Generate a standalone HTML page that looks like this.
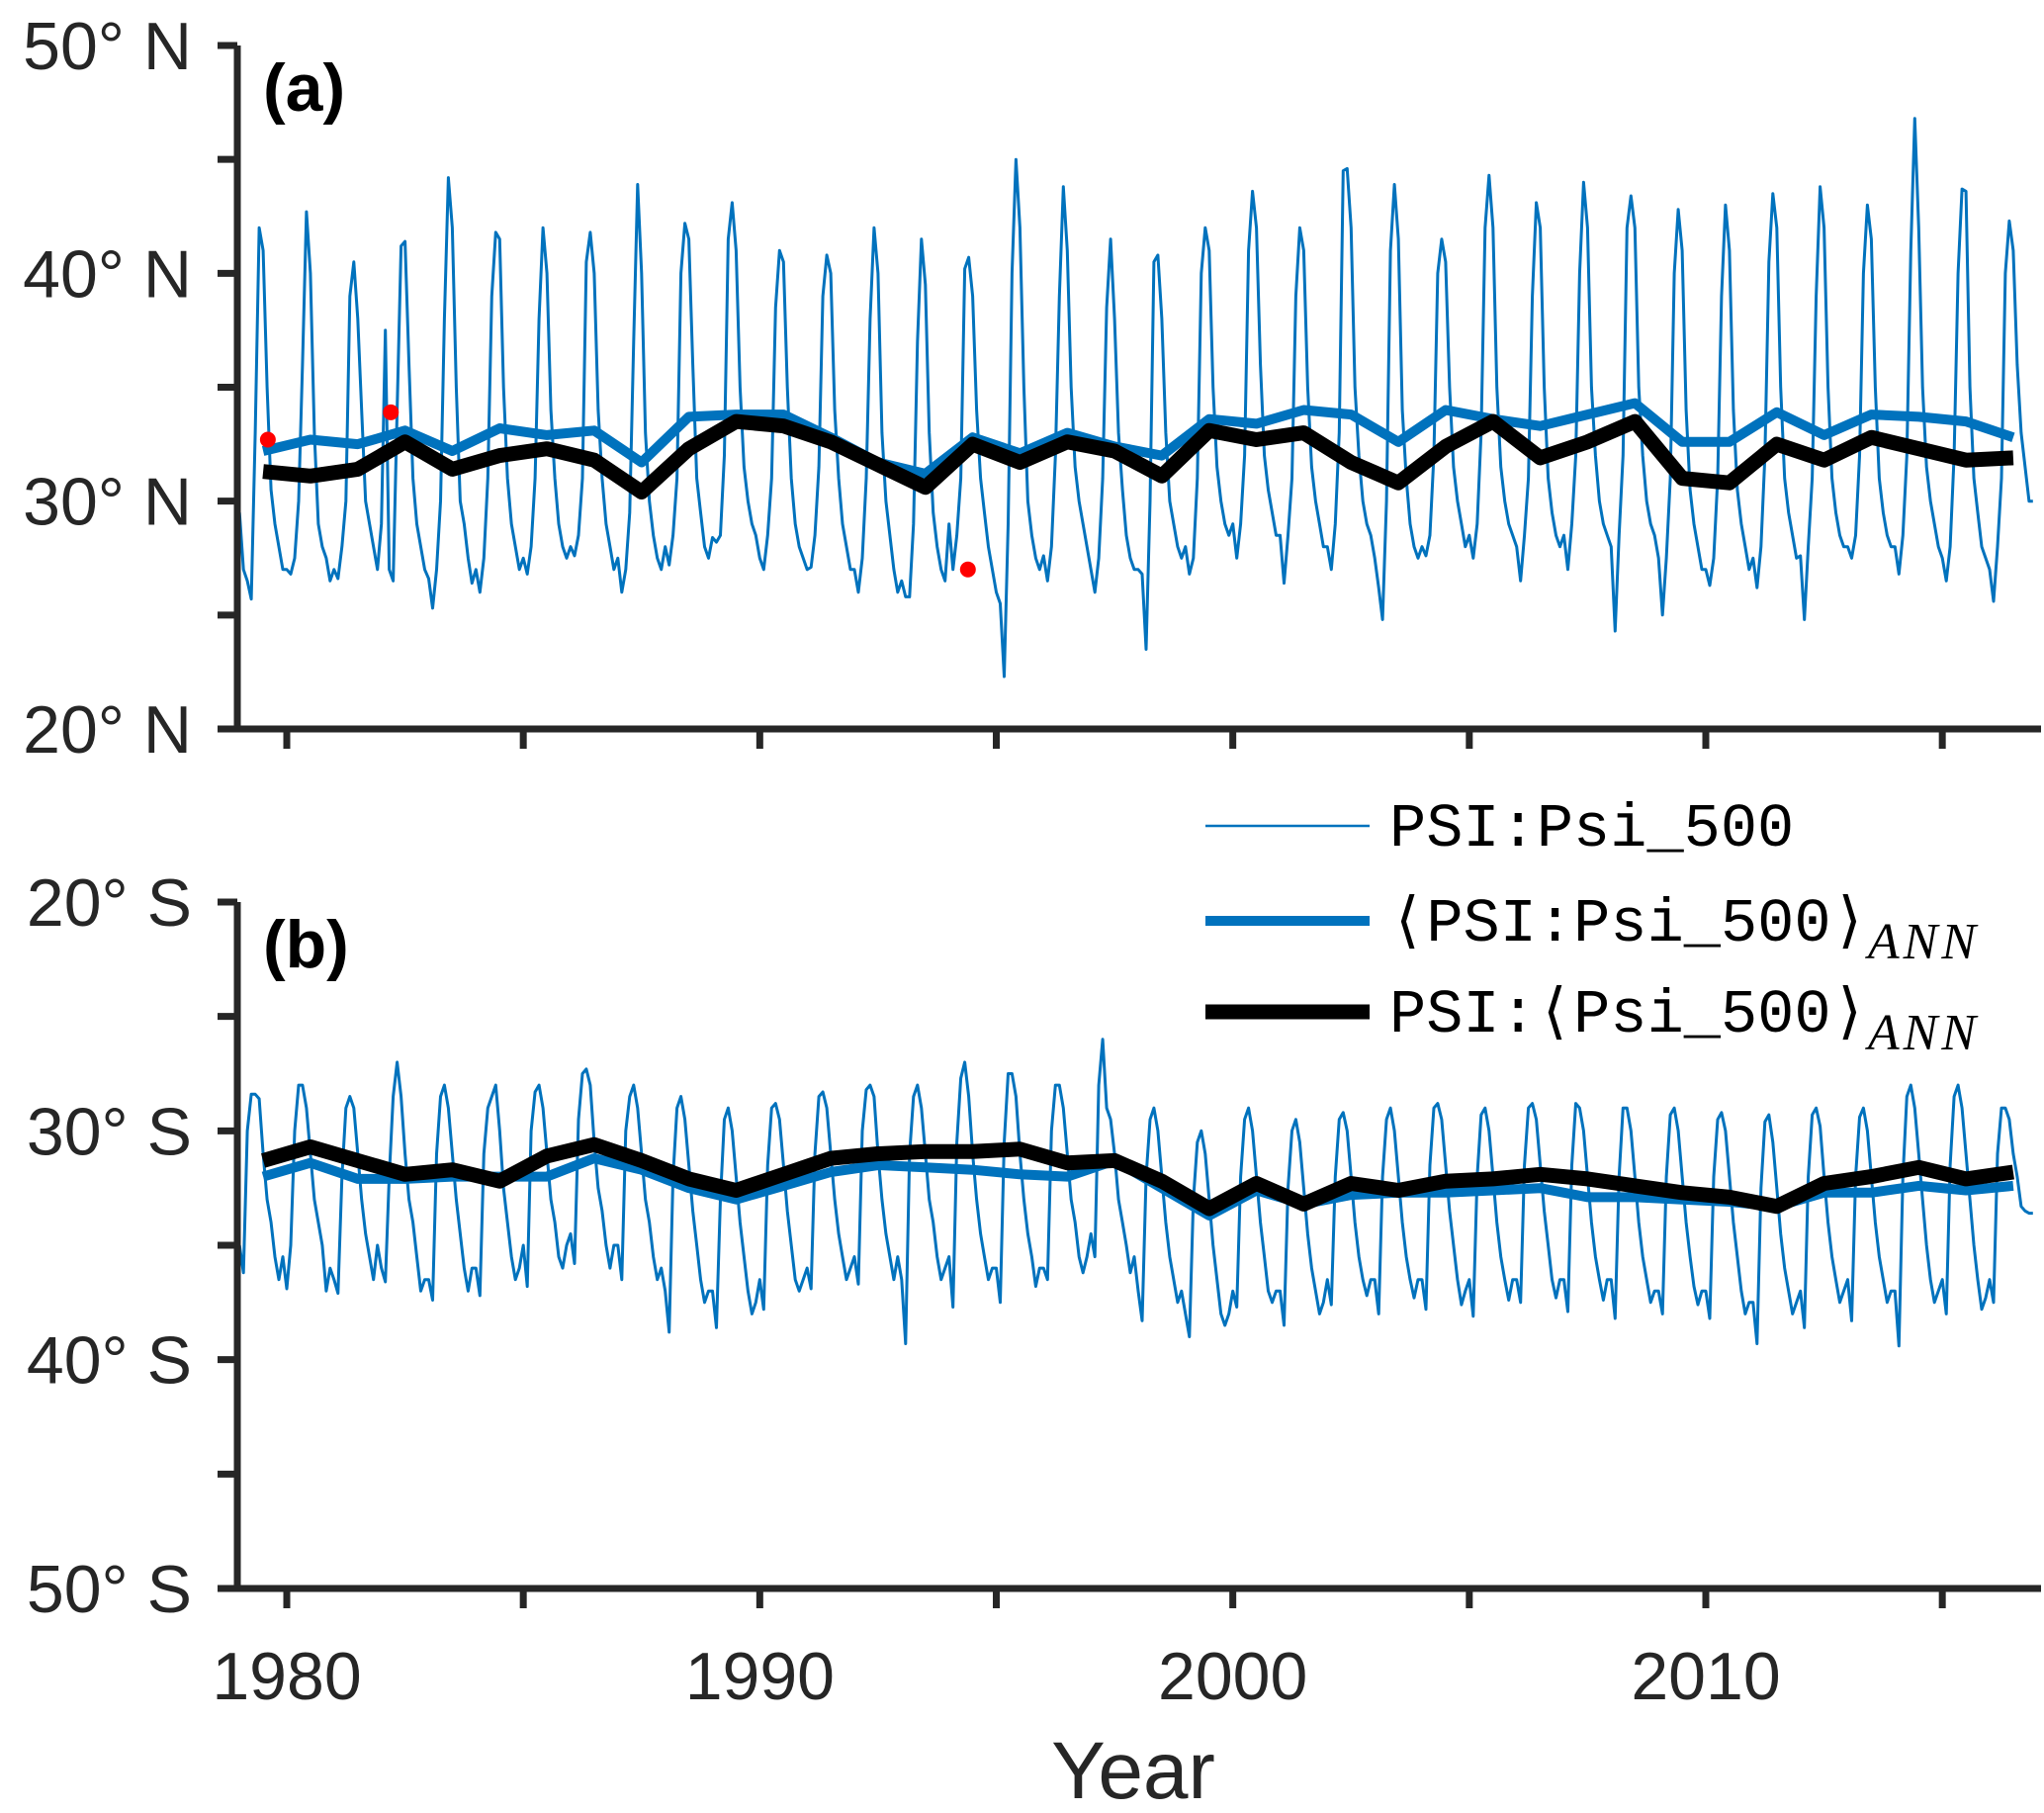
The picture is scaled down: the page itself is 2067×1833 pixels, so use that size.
<!DOCTYPE html>
<html><head><meta charset="utf-8">
<style>
body{margin:0;background:#fff;}
svg{display:block;}
.tk{font-family:"Liberation Sans",sans-serif;font-size:68px;fill:#262626;}
.lg{font-family:"Liberation Mono",monospace;font-size:62px;fill:#000;}
.sub{font-family:"Liberation Serif",serif;font-style:italic;font-size:52px;letter-spacing:4px;}
</style></head>
<body>
<svg id="chart" width="2067" height="1833" viewBox="0 0 2067 1833"></svg>
<script>
// Panel a monthly (deg N), 1979-2016, 12 per year
const monthlyA = [
29.5,27,26.5,25.7,33,42,41,35,30.5,29,28,27,
27,26.8,27.5,30,36,42.7,40,33,29,28,27.5,26.5,
27,26.6,28,30,39,40.5,38,34,30,29,28,27,
29,37.5,27,26.5,34,41.2,41.4,36,31,29,28,27,
26.6,25.3,27,30,38,44.2,42,35,30,29,27.5,26.4,
27,26,27.5,31,39,41.8,41.5,35,31,29,28,27,
27.5,26.8,28,31,38,42,40,34,31,29,28,27.5,
28,27.6,28.5,31,40.5,41.8,40,34,31,29,28,27,
27.5,26,27,29.5,37,43.9,40,33,30,28.5,27.5,27,
28,27.2,28.5,31,40,42.2,41.5,36,31,29.5,28,27.5,
28.4,28.2,28.5,32,41.5,43.1,41,35,31.5,30,29,28.5,
27.5,27,28.5,31,38.5,41,40.5,35,31,29,28,27.5,
27,27.1,28.5,31.5,39,40.8,40,34,31,29,28,27,
27,26,27.5,31,38,42,40,33,30,28.5,27,26,
26.5,25.8,25.8,29,37,41.5,39.5,33,29.5,28,27,26.5,
29,27,28.5,31,40.2,40.7,39,34,31,29.5,28,27,
26,25.5,22.3,29,40,45,42,35,30,28.5,27.5,27,
27.6,26.5,28,32,39,43.8,41,35,31.5,30,29,28,
27,26,27.5,31,38.5,41.5,38,33,30.5,28.5,27.5,27,
27,26.8,23.5,30,40.5,40.8,38,33,30,29,28,27.5,
28,26.8,27.5,31,40,42,41,35,31.5,30,29,28.5,
29,27.5,29,32,41,43.6,42,36,32,30.5,29.5,28.5,
28.5,26.4,28.5,31,39,42,41,35,31.5,30,29,28,
28,27,29,33,44.5,44.6,42,35,32,30,29,28.5,
27.5,26.2,24.8,30,41,43.9,41.5,34,31,29,28,27.5,
28,27.6,28.5,32,40,41.5,40.5,35,31.5,30,29,28,
28.5,27.5,29,33,42,44.3,42,35,31.5,30,29,28.5,
28,26.5,28.5,31,39,43.1,42,35,31,29.5,28.5,28,
28.5,27,29,32,40,44,42,35,32,30,29,28.5,
28,24.3,28.5,32,42,43.4,42,35,32,30,29,28.5,
27.5,25,27.5,31,40,42.8,41,34,30.5,29,28,27,
27,26.3,27.5,31,39,43,41,34,30.5,29,28,27,
27.5,26.2,28,32,40.5,43.5,42,35,31,29.5,28.5,27.5,
27.6,24.8,28,31,39,43.8,42,35,31,29.5,28.5,28,
28,27.5,28.5,32,40,43,41.5,35,31,29.5,28.5,28,
28,26.8,28.5,32,41,46.8,42,35,31.5,30,29,28,
27.5,26.5,28,32,40,43.7,43.6,35,31,29.5,28,27.5,
27,25.6,28,31,40,42.3,41,36,33,31.5,30,30
];
// Panel b monthly (deg S)
const monthlyB = [
35,36.2,30,28.4,28.4,28.6,31,33,34,35.5,36.5,35.5,
36.9,35,30,28,28,29,31,33,34,35,37,36,
36.5,37.1,32,29,28.5,29,31,33,34.5,35.5,36.5,35,
36,36.6,32,28.5,27,28.5,31,33,34,35.5,37,36.5,
36.5,37.4,31,28.5,28,29,31,33,34.5,36,37,36,
36,37.2,31,29,28.5,28,30,32.5,34,35.5,36.5,36,
35,36.8,30,28.3,28,29,31,33,34,35.5,36,35,
34.5,35.8,29.5,27.5,27.3,28,30.5,32.5,33.5,35,36,35,
35,36.5,30,28.5,28,29,31,33,34,35.5,36.5,36,
37,38.8,32,29,28.5,29.5,31.5,33.5,35,36.5,37.5,37,
37,38.6,33,29.5,29,30,32,34,35.5,37,38,37.5,
36.5,37.8,31.5,29,28.8,29.5,31.5,33.5,35,36.5,37,36.5,
36,36.9,31,28.5,28.3,29,31,33,34.5,35.5,36.5,36,
35.5,36.7,30,28.2,28,28.5,31,33,34.5,35.5,36.5,35.5,
36.5,39.3,31,28.5,28,29,31,33,34,35.5,36.5,36,
35.5,37.7,30.5,27.7,27,28.5,31,33,34.5,35.5,36.5,36,
36,37.5,30.5,27.5,27.5,28.5,31,33,34.5,35.5,36.8,36,
36,36.5,30,28,28,29,31,33,34,35.5,36.2,35.5,
34.5,35.5,28,26,29,29.5,31,33,34,35,36.2,35.5,
37,38.3,32,29.5,29,30,32,34,35.5,36.5,37.5,37,
38,39,33,30.5,30,31,33,35,36.5,38,38.5,38,
37,37.7,32,29.5,29,30,32,34,35.5,37,37.5,37,
37,38.5,32.5,30,29.5,30.5,32.5,34.5,36,37,38,37.5,
36.5,37.6,32,29.5,29.2,30,32,34,35.5,36.5,37.2,36.5,
36.5,38,32,29.5,29,30,32,34,35.5,36.5,37.3,36.5,
36.5,37.8,31.5,29,28.8,29.5,31.5,33.5,35,36.5,37.6,37,
36.5,38.1,32,29.3,29,30,32,34,35.5,36.5,37.4,36.5,
36.5,37.5,31.5,29,28.8,29.5,31.5,33.5,35,36.5,37.3,36.5,
36.5,37.9,31.5,28.8,29,30,32,34,35.5,36.5,37.4,36.5,
36.5,38.2,32,29,29,30,32,34,35.5,36.5,37.5,37,
37,38,32,29.3,29,30,32,34,35.5,36.8,37.6,37,
37,38.2,32,29.5,29.2,30,32,34,35.5,37,38,37.5,
37.5,39.3,32.5,29.6,29.3,30.5,32.5,34.5,36,37,38,37.5,
37,38.6,32,29.3,29,29.8,32,34,35.5,36.5,37.5,37,
36.5,38.3,32,29.4,29,30,32,34,35.5,36.5,37.5,37,
37,39.4,32,28.5,28,29,31,33,35,36.5,37.5,37,
36.5,38,31.5,28.5,28,29,31,33,35,36.5,37.8,37.3,
36.5,37.5,31,29,29,29.5,31,32,33.3,33.5,33.6,33.6
];
const annualYears = [1979,1980,1981,1982,1983,1984,1985,1986,1987,1988,1989,1990,1991,1992,1993,1994,1995,1996,1997,1998,1999,2000,2001,2002,2003,2004,2005,2006,2007,2008,2009,2010,2011,2012,2013,2014,2015,2016];
const annualBlueA = [32.2,32.7,32.5,33.1,32.2,33.2,32.9,33.1,31.7,33.7,33.8,33.8,32.8,31.7,31.2,32.8,32.1,33.0,32.4,32.0,33.6,33.4,34.0,33.8,32.6,34.0,33.6,33.3,33.8,34.3,32.6,32.6,33.9,32.9,33.8,33.7,33.5,32.8];
const annualBlackA = [31.3,31.1,31.4,32.6,31.4,32.0,32.3,31.8,30.4,32.3,33.5,33.3,32.6,31.6,30.6,32.5,31.7,32.6,32.2,31.1,33.1,32.7,33.0,31.7,30.8,32.4,33.5,31.9,32.6,33.5,31.0,30.8,32.5,31.8,32.8,32.3,31.8,31.9];
const annualBlueB = [32.0,31.4,32.1,32.1,32.0,32.0,32.0,31.2,31.7,32.5,33.0,32.4,31.8,31.5,31.6,31.7,31.9,32.0,31.3,32.5,33.7,32.6,33.2,32.8,32.7,32.7,32.6,32.5,32.9,32.9,33.0,33.1,33.3,32.7,32.7,32.4,32.6,32.4];
const annualBlackB = [31.3,30.7,31.3,31.9,31.7,32.2,31.1,30.6,31.3,32.1,32.6,31.9,31.2,31.0,30.9,30.9,30.8,31.4,31.3,32.2,33.4,32.3,33.2,32.3,32.6,32.2,32.1,31.9,32.1,32.4,32.7,32.9,33.3,32.3,32.0,31.6,32.1,31.8];
const redDotX = [1979.6,1982.2,1994.4];
const redDotY = [32.7,33.9,27.0];
const yTicksA = [20,30,40,50];
const yTicksB = [20,30,40,50];
const xTicks = [1980,1990,2000,2010];

const NS='http://www.w3.org/2000/svg';
const svg=document.getElementById('chart');
const AX=240, RX=2064;
const X0=1979, PXY=(1725-290)/30;
function xs(t){return 290+(t-1980)*PXY;}
function mk(tag,attrs,parent){const e=document.createElementNS(NS,tag);for(const k in attrs)e.setAttribute(k,attrs[k]);(parent||svg).appendChild(e);return e;}
function panel(top,bottom,hemi,monthly,blue,black,letter,name){
  const g=mk('g',{});
  
  
  const ys=v=>hemi==='N'?top+(50-v)/30*(bottom-top):top+(v-20)/30*(bottom-top);
  let d='';
  monthly.forEach((v,i)=>{const t=X0+i/12;d+=(i?'L':'M')+xs(t).toFixed(1)+','+ys(v).toFixed(1);});
  const m=mk('path',{d:d,fill:'none',stroke:'#0072BD','stroke-width':3,'stroke-linejoin':'round'},g);
  
  
  const line=(arr,col,w,nm)=>{let dd='';arr.forEach((v,i)=>{dd+=(i?'L':'M')+xs(annualYears[i]+0.5).toFixed(1)+','+ys(v).toFixed(1);});
    const p=mk('path',{d:dd,fill:'none',stroke:col,'stroke-width':w,'stroke-linejoin':'round'},g);
    
    };
  line(blue,'#0072BD',10,'annual-mean-series-'+letter);
  line(black,'#000',15,'annual-mean-psi-series-'+letter);
  const ax=mk('path',{d:`M${AX},${top}V${bottom}H${RX}`,fill:'none',stroke:'#262626','stroke-width':7},g);
  
  
  for(let v=20;v<=50;v+=5){const y=ys(v);mk('line',{x1:AX-20,x2:AX,y1:y,y2:y,stroke:'#262626','stroke-width':7},g);}
  for(let yr=1980;yr<=2015;yr+=5){mk('line',{x1:xs(yr),x2:xs(yr),y1:bottom,y2:bottom+20,stroke:'#262626','stroke-width':7},g);}
  (hemi==='N'?yTicksA:yTicksB).forEach(v=>{const t=mk('text',{x:194,y:ys(v)+24,'text-anchor':'end','class':'tk'},g);t.textContent=v+'° '+hemi;
    
    });
  const lt=mk('text',{x:266,y:top+66,'font-family':'Liberation Sans, sans-serif','font-weight':'bold','font-size':68,fill:'#000'},g);
  lt.textContent='('+letter+')';
  
  
  return ys;
}
const ysA=panel(46,737,'N',monthlyA,annualBlueA,annualBlackA,'a','panel-a');
panel(912,1606,'S',monthlyB,annualBlueB,annualBlackB,'b','panel-b');
redDotX.forEach((x,i)=>{const c=mk('circle',{cx:xs(x),cy:ysA(redDotY[i]),r:8,fill:'#ff0000'});
  
  });
xTicks.forEach(yr=>{const t=mk('text',{x:xs(yr),y:1718,'text-anchor':'middle','class':'tk'});t.textContent=yr;
  
  });
const xl=mk('text',{x:1146,y:1818,'text-anchor':'middle','class':'tk'});xl.textContent='Year';xl.style.fontSize='82px';


const lgY=[835,931,1023], lgW=[2.6,10,15], lgC=['#0072BD','#0072BD','#000'];
const lgT=['PSI:Psi_500','⟨PSI:Psi_500⟩','PSI:⟨Psi_500⟩'];
lgY.forEach((y,i)=>{
  const l=mk('line',{x1:1219,x2:1385,y1:y,y2:y,stroke:lgC[i],'stroke-width':lgW[i]});
  
  
  const t=mk('text',{x:1405,y:y+20,'class':'lg'});
  t.textContent=lgT[i];
  
  
  if(i>0){const s=mk('tspan',{'class':'sub',dy:18},t);s.textContent='ANN';}
});
</script>
</body></html>
